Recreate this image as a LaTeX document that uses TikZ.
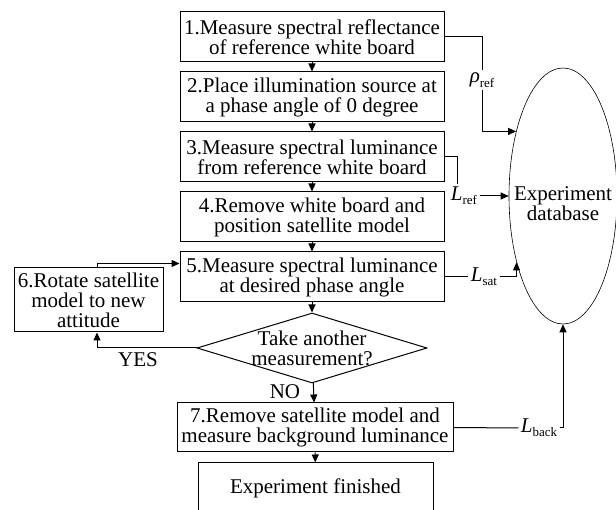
\documentclass[tikz,border=0pt]{standalone}
\usepackage{fontspec}
\setmainfont{Liberation Serif}
\usepackage{tikz}
\usetikzlibrary{arrows.meta,shapes.geometric,calc}
\tikzset{
  >={Triangle[length=8pt,width=7pt]},
  stepbox/.style={draw, line width=1pt, align=center, inner sep=0pt,
    minimum width=264pt, minimum height=50pt},
  decision/.style={draw, line width=1pt, shape=diamond, align=center,
    inner xsep=0pt, inner ysep=-6pt, aspect=3.29,
    minimum width=230pt, minimum height=70pt},
  quantity/.style={inner sep=2pt}
}
\newcommand{\qty}[2]{\textit{#1}\raisebox{-0.45ex}{\fontsize{13}{13}\selectfont #2}}

\begin{document}
\begin{tikzpicture}[x=1pt,y=-1pt,line width=1pt]
                \useasboundingbox (0,0) rectangle (616,510);
                \clip (0,0) rectangle (616,510);
                \fontsize{21}{20}\selectfont

                % Steps
                \node[stepbox] (b1) at (312,37) {1.Measure spectral reflectance\\of reference white board};
                \node[stepbox] (b2) at (312,97) {2.Place illumination source at\\a phase angle of 0 degree};
                \node[stepbox] (b3) at (312,157) {3.Measure spectral luminance\\from reference white board};
                \node[stepbox] (b4) at (312,217) {4.Remove white board and\\position satellite model};
                \node[stepbox] (b5) at (312,277) {5.Measure spectral luminance\\at desired phase angle};
                \node[stepbox, minimum width=149pt, minimum height=64pt] (b6) at (88.5,300) {6.Rotate satellite\\model to new\\attitude};
                \node[decision] (dia) at (312,348) {Take another\\measurement?};
                \node[stepbox, minimum width=276pt, minimum height=49pt] (b7) at (315,427.5) {7.Remove satellite model and\\measure background luminance};
                \node[stepbox, minimum width=235pt] (fin) at (315.5,488) {Experiment finished};

                % Database
                \node[draw, ellipse, line width=0.6pt, inner sep=0pt, minimum width=108pt, minimum height=256pt] (ell) at (563,196) {};
                \node[align=center] (db) at (563,204) {Experiment\\database};

                % Main flow
                \draw[->] (b1) -- (b2);
                \draw[->] (b2) -- (b3);
                \draw[->] (b3) -- (b4);
                \draw[->] (b4) -- (b5);
                \draw[->] (b5) -- (dia);
                \draw[->] (dia) -- (b7);
                \draw[->] (b7) -- (fin);
                \node (no) at (285,392) {NO};

                % Loop back
                \draw[->] (dia.west) -| ([xshift=8.5pt]b6.south);
                \node (yes) at (138,360) {YES};
                \draw[->] ([xshift=8.5pt]b6.north) |- ([yshift=13.5pt]b5.west);

                % Measured quantities
                \node[quantity] (rho) at (482,80) {\qty{ρ}{ref}};
                \draw (b1.east) -| (rho);
                \draw[->] (rho) |- (ell.126);
                \node[quantity] (lref) at (464,196) {\qty{L}{ref}};
                \draw (b3.east) -| ([xshift=-7pt]lref.north);
                \draw[->] (lref.east) -- (ell.west);
                \node[quantity] (lsat) at (484,277) {\qty{L}{sat}};
                \draw (b5.east) -- (lsat.west);
                \draw[->] (lsat.east) -| (ell.235);
                \node[quantity] (lback) at (539,428) {\qty{L}{back}};
                \draw (b7.east) -- (lback.west);
                \draw[->] (lback.east) -| (ell.south);
\end{tikzpicture}
\end{document}
